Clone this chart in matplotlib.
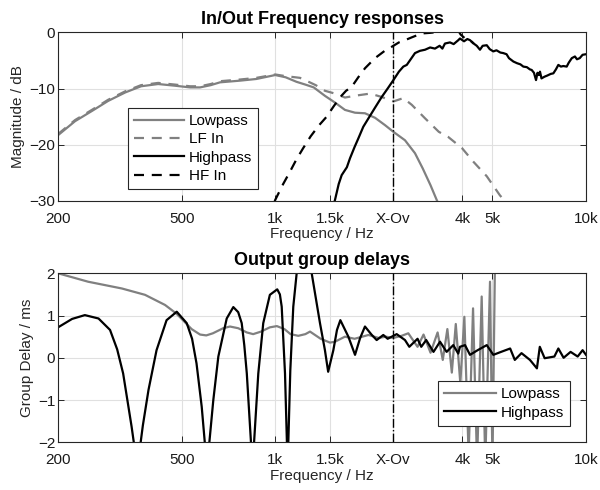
import matplotlib
matplotlib.use("Agg")
import matplotlib.pyplot as plt

plt.rcParams['font.family'] = ['Liberation Sans', 'DejaVu Sans']

# --- tick positions / labels ---
xticks = [200, 500, 1000, 1500, 2400, 4000, 5000, 10000]
xticklabels = ['200', '500', '1k', '1.5k', 'X-Ov', '4k', '5k', '10k']
crossover = 2400

# --- In/Out frequency responses (Hz, dB) ---
lp_f = [200, 227, 257, 290, 329, 370, 420, 476, 532, 573, 620, 664, 770, 870, 1000,
        1080, 1170, 1250, 1330, 1445, 1557, 1676, 1806, 1944, 2094, 2254, 2400, 2615,
        2816, 2982, 3160, 3307, 3450]
lp_db = [-18.3, -15.8, -14.0, -12.2, -10.7, -9.6, -9.2, -9.5, -9.8, -9.8, -9.4, -8.9,
         -8.6, -8.3, -7.6, -8.0, -8.8, -9.3, -9.8, -11.3, -12.5, -13.8, -14.3, -14.4,
         -15.2, -16.5, -17.7, -19.2, -21.5, -24.2, -27.2, -29.8, -32.0]

lfin_f = [200, 227, 257, 290, 329, 370, 420, 476, 532, 573, 620, 664, 770, 870, 1000,
          1080, 1201, 1280, 1350, 1445, 1557, 1676, 1850, 2020, 2200, 2400, 2583, 2750,
          3034, 3360, 3600, 3990, 4338, 4793, 5285, 5485, 5700]
lfin_db = [-18.1, -15.6, -13.8, -12.0, -10.5, -9.4, -9.0, -9.3, -9.6, -9.6, -9.2, -8.7,
           -8.4, -8.1, -7.5, -7.8, -8.1, -8.8, -9.4, -10.4, -10.9, -11.6, -11.2, -10.9,
           -11.5, -12.3, -11.7, -12.9, -15.3, -17.7, -18.6, -20.6, -23.0, -25.6, -29.0,
           -30.0, -32.0]

hp_f = [1500, 1557, 1600, 1636, 1700, 1740, 1800, 1850, 1920, 1995, 2100, 2201, 2300,
        2400, 2500, 2583, 2650, 2720, 2816, 2920, 3034, 3150, 3266, 3380, 3450, 3516,
        3650, 3750, 3882, 3930, 4050, 4150, 4233, 4350, 4450, 4558, 4650, 4793, 4900,
        5032, 5150, 5300, 5418, 5550, 5650, 5838, 6000, 6150, 6285, 6450, 6600, 6686,
        6800, 6904, 6980, 7050, 7110, 7190, 7350, 7500, 7700, 7850, 8000, 8146, 8300,
        8450, 8666, 8800, 9000, 9212, 9350, 9543, 9750, 10000]
hp_db = [-33.0, -29.8, -27.0, -25.4, -24.0, -22.4, -20.4, -18.9, -16.8, -15.3, -13.3,
         -11.5, -10.0, -8.5, -7.0, -6.1, -5.8, -4.9, -3.7, -3.3, -3.1, -2.7, -2.9, -2.4,
         -2.9, -2.0, -1.8, -2.1, -1.4, -1.1, -1.6, -1.2, -1.4, -2.0, -2.4, -3.1, -2.4,
         -2.3, -3.0, -3.4, -3.2, -3.6, -3.7, -3.9, -4.6, -5.2, -5.5, -5.7, -6.1, -6.2,
         -6.6, -6.7, -7.2, -8.5, -7.2, -7.6, -7.0, -8.2, -7.9, -7.7, -7.4, -7.3, -6.6,
         -5.8, -6.1, -6.0, -6.1, -5.4, -4.6, -4.3, -4.8, -4.6, -4.0, -3.9]

hfin_f = [950, 1000, 1060, 1115, 1170, 1230, 1300, 1380, 1464, 1540, 1620, 1690, 1762,
          1850, 1944, 2094, 2250, 2367, 2500, 2615, 2750, 2960, 3150, 3400, 3650, 3850,
          3950, 4100, 4250, 4350]
hfin_db = [-33.0, -29.8, -27.0, -24.8, -22.6, -20.6, -18.5, -16.6, -15.0, -13.2, -11.5,
           -10.4, -9.7, -8.0, -6.4, -4.6, -3.3, -2.6, -1.8, -1.4, -0.9, -0.2, -0.1, 0.1,
           0.4, 0.6, -0.4, -1.2, -1.5, -2.0]

# --- Output group delays (Hz, ms) ---
gd_lp_f = [200, 250, 321, 381, 442, 480, 500, 538, 573, 600, 630, 680, 715, 760, 810,
           849, 900, 960, 1012, 1070, 1120, 1186, 1250, 1294, 1400, 1500, 1557, 1676,
           1800, 1995, 2150, 2270, 2400, 2550, 2680, 2870, 3000, 3160, 3330, 3460, 3580,
           3700, 3810, 3940, 4060, 4190, 4330, 4460, 4616, 4740, 4910, 5000, 5100]
gd_lp = [2.0, 1.80, 1.64, 1.49, 1.25, 1.05, 0.92, 0.68, 0.55, 0.53, 0.58, 0.70, 0.74,
         0.70, 0.60, 0.56, 0.62, 0.72, 0.75, 0.68, 0.56, 0.52, 0.56, 0.62, 0.45, 0.36,
         0.38, 0.50, 0.45, 0.54, 0.47, 0.50, 0.47, 0.52, 0.58, 0.26, 0.55, 0.12, 0.60,
         -0.05, 0.68, -0.35, 0.80, -0.60, 0.97, -2.3, 1.17, -2.5, 1.45, -2.5, 1.80, -2.5,
         2.6]

gd_hp_f = [200, 222, 244, 270, 294, 310, 324, 345, 360, 375, 391, 415, 447, 482, 519,
           540, 558, 580, 603, 632, 656, 698, 733, 760, 780, 795, 810, 845, 882, 915,
           961, 1015, 1035, 1049, 1075, 1096, 1118, 1143, 1172, 1240, 1310, 1393, 1445,
           1480, 1538, 1580, 1620, 1719, 1806, 1874, 1944, 2040, 2120, 2227, 2300, 2400,
           2459, 2615, 2700, 2870, 2950, 3060, 3230, 3390, 3560, 3740, 3880, 3930, 4080,
           4233, 4480, 4793, 5032, 5285, 5700, 5900, 6200, 6600, 6950, 7100, 7360, 7910,
           8146, 8470, 8920, 9400, 9750, 10000]
gd_hp = [0.72, 0.92, 1.01, 0.93, 0.66, 0.20, -0.37, -1.63, -2.6, -1.6, -0.76, 0.18,
         0.89, 1.09, 0.82, 0.45, -0.13, -1.16, -2.6, -1.0, 0.03, 0.93, 1.20, 1.08, 0.82,
         0.30, -0.37, -2.6, -0.37, 0.82, 1.49, 1.62, 1.50, 1.21, -0.37, -2.6, -0.3, 1.21,
         2.0, 2.8, 2.0, 0.82, 0.18, -0.33, 0.18, 0.66, 0.89, 0.50, 0.07, 0.46, 0.74, 0.55,
         0.42, 0.54, 0.45, 0.52, 0.56, 0.42, 0.26, 0.45, 0.26, 0.42, 0.14, 0.38, 0.14,
         0.30, 0.10, 0.26, 0.30, 0.07, 0.18, 0.30, 0.07, 0.13, 0.22, -0.05, 0.11, -0.05,
         -0.25, 0.26, -0.01, 0.03, 0.22, 0.0, 0.14, 0.03, 0.18, 0.07]

GRAY = (0.5, 0.5, 0.5)
EDGE = (0.15, 0.15, 0.15)
DASH = (4.5, 3.5)

fig = plt.figure(figsize=(6, 4.9), dpi=100)
ax1 = fig.add_axes([0.0967, 0.5898, 0.88, 0.3443])
ax2 = fig.add_axes([0.0967, 0.0973, 0.88, 0.345])


def style_axis(ax, ylim, yticks):
    ax.set_xscale('log')
    ax.set_xlim(200, 10000)
    ax.set_ylim(*ylim)
    ax.set_xticks(xticks)
    ax.set_xticklabels(xticklabels)
    ax.minorticks_off()
    ax.set_yticks(yticks)
    ax.grid(True, color=(0.88, 0.88, 0.88), lw=0.8)
    ax.set_axisbelow(True)
    ax.tick_params(direction='in', top=True, right=True, length=4, width=0.7,
                   labelsize=11, colors=EDGE, labelcolor=(0.1, 0.1, 0.1))
    ax.tick_params(axis='x', pad=8)
    ax.tick_params(axis='y', pad=2)
    for s in ax.spines.values():
        s.set_color(EDGE)
        s.set_linewidth(0.8)
    ax.axvline(crossover, color='k', lw=1.0, ls='-.', zorder=3)
    ax.set_xlabel('Frequency / Hz', fontsize=11, color=(0.15, 0.15, 0.15), labelpad=1)


def style_legend(leg):
    leg.get_frame().set_linewidth(0.8)


# top: magnitude responses
style_axis(ax1, (-30, 0), [-30, -20, -10, 0])
ax1.plot(lp_f, lp_db, color=GRAY, lw=1.6, label='Lowpass')
ax1.plot(lfin_f, lfin_db, color=GRAY, lw=1.6, ls='--', dashes=DASH, label='LF In')
ax1.plot(hp_f, hp_db, color='k', lw=1.6, label='Highpass')
ax1.plot(hfin_f, hfin_db, color='k', lw=1.6, ls='--', dashes=DASH, label='HF In')
ax1.set_ylabel('Magnitude / dB', fontsize=11, color=(0.15, 0.15, 0.15), labelpad=3)
ax1.set_title('In/Out Frequency responses', fontsize=13, fontweight='bold', pad=6)
leg1 = ax1.legend(loc='lower left', bbox_to_anchor=(0.132, 0.071), fontsize=11,
                  fancybox=False, framealpha=1, edgecolor=EDGE, handlelength=3.3,
                  borderpad=0.4, labelspacing=0.28, handletextpad=0.3, borderaxespad=0)
style_legend(leg1)

# bottom: group delays
style_axis(ax2, (-2, 2), [-2, -1, 0, 1, 2])
ax2.plot(gd_lp_f, gd_lp, color=GRAY, lw=1.6, label='Lowpass')
ax2.plot(gd_hp_f, gd_hp, color='k', lw=1.6, label='Highpass')
ax2.set_ylabel('Group Delay / ms', fontsize=11, color=(0.15, 0.15, 0.15), labelpad=3)
ax2.set_title('Output group delays', fontsize=13, fontweight='bold', pad=6)
leg2 = ax2.legend(loc='lower right', bbox_to_anchor=(0.97, 0.098), fontsize=11,
                  fancybox=False, framealpha=1, edgecolor=EDGE, handlelength=3.4,
                  borderpad=0.4, labelspacing=0.28, handletextpad=0.3, borderaxespad=0)
style_legend(leg2)

fig.savefig('out.png', dpi=100)
